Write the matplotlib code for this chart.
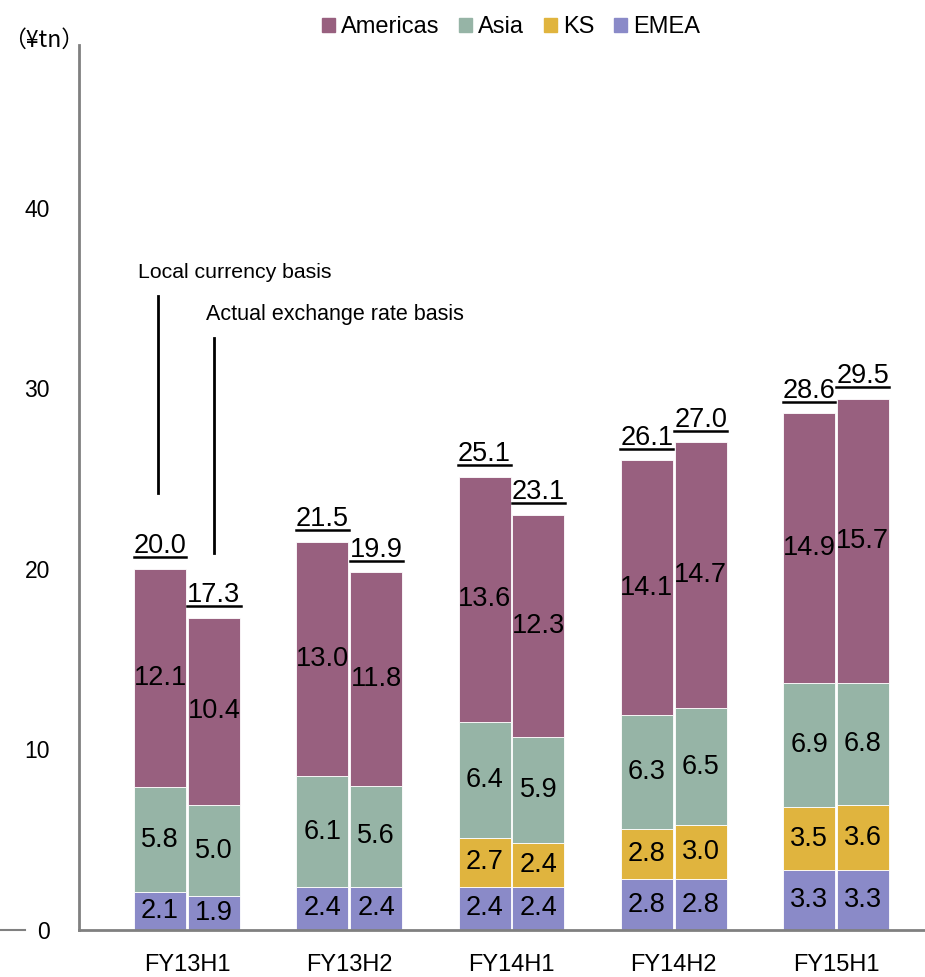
import numpy as np
import matplotlib
matplotlib.use('Agg')
import matplotlib.pyplot as plt
from matplotlib.patches import Patch
from matplotlib.lines import Line2D

plt.rcParams['font.family'] = ['Liberation Sans', 'DejaVu Sans']

periods = ['FY13H1', 'FY13H2', 'FY14H1', 'FY14H2', 'FY15H1']

# local currency basis (left bar of each pair)
local_emea = [2.1, 2.4, 2.4, 2.8, 3.3]
local_ks = [0, 0, 2.7, 2.8, 3.5]
local_asia = [5.8, 6.1, 6.4, 6.3, 6.9]
local_americas = [12.1, 13.0, 13.6, 14.1, 14.9]
local_total = [20.0, 21.5, 25.1, 26.1, 28.6]

# actual exchange rate basis (right bar)
actual_emea = [1.9, 2.4, 2.4, 2.8, 3.3]
actual_ks = [0, 0, 2.4, 3.0, 3.6]
actual_asia = [5.0, 5.6, 5.9, 6.5, 6.8]
actual_americas = [10.4, 11.8, 12.3, 14.7, 15.7]
actual_total = [17.3, 19.9, 23.1, 27.0, 29.5]

colors = {'Americas': '#98607f', 'Asia': '#96b4a6', 'KS': '#e0b43e', 'EMEA': '#8a8ac8'}

fig = plt.figure(figsize=(9.25, 9.77), dpi=100)
ax = fig.add_axes([79/925, 47/977, 846/925, 885/977])

x = np.arange(len(periods))
w = 0.32
off = 0.166

totals_texts = []
for shift, segs, tot in [(-off, [local_emea, local_ks, local_asia, local_americas], local_total),
                         (off, [actual_emea, actual_ks, actual_asia, actual_americas], actual_total)]:
    bottom = np.zeros(len(periods))
    for name, vals in zip(['EMEA', 'KS', 'Asia', 'Americas'], segs):
        vals = np.array(vals, dtype=float)
        ax.bar(x + shift, vals, w, bottom=bottom, color=colors[name],
               edgecolor='white', linewidth=0.6)
        for i, v in enumerate(vals):
            if v > 0:
                ax.text(x[i] + shift, bottom[i] + v / 2, f'{v:.1f}', ha='center', va='center',
                        fontsize=19.5, color='black')
        bottom += vals
    for i, t in enumerate(tot):
        txt = ax.annotate(f'{t:.1f}', (x[i] + shift, bottom[i]), xytext=(0, 7),
                          textcoords='offset points', ha='center', va='bottom', fontsize=19.5)
        totals_texts.append(txt)

ax.set_xlim(-0.666, 4.549)
ax.set_ylim(0, 49)
ax.set_yticks([0, 10, 20, 30, 40])
ax.tick_params(axis='y', length=0, pad=21, labelsize=16.5)
ax.set_xticks(x)
ax.set_xticklabels(periods)
ax.tick_params(axis='x', length=0, pad=17, labelsize=17)
for s in ['top', 'right']:
    ax.spines[s].set_visible(False)
for s in ['left', 'bottom']:
    ax.spines[s].set_color('#808080')
    ax.spines[s].set_linewidth(2)

# basis annotations
ax.plot([-off - 0.01, -off - 0.01], [24.2, 35.1], color='black', lw=2)
ax.plot([off, off], [20.9, 32.8], color='black', lw=2)
ax.text(-0.302, 36.4, 'Local currency basis', fontsize=15.3, va='center', ha='left')
ax.text(0.117, 34.1, 'Actual exchange rate basis', fontsize=15.5, va='center', ha='left')

fig.text(44/925, 1 - 40/977, '（¥tn）', fontsize=16.5, va='center', ha='center',
         family=['Noto Sans CJK JP', 'DejaVu Sans'])
fig.add_artist(Line2D([0, 25/925], [1 - 930/977, 1 - 930/977], color='#808080', lw=1.5))

handles = [Patch(color=colors[n], label=n) for n in ['Americas', 'Asia', 'KS', 'EMEA']]
fig.legend(handles=handles, loc='center', bbox_to_anchor=(511/925, 1 - 27/977), ncol=4,
           frameon=False, fontsize=17, handlelength=0.55, handleheight=0.55,
           handletextpad=0.25, columnspacing=0.85)

# underline the totals
fig.canvas.draw()
r = fig.canvas.get_renderer()
for txt in totals_texts:
    bb = txt.get_window_extent(r)
    yy = (bb.y0 + 2) / fig.bbox.height
    fig.add_artist(Line2D([bb.x0 / fig.bbox.width, bb.x1 / fig.bbox.width], [yy, yy],
                          color='black', lw=1.8))

fig.savefig('out.png', dpi=100)
